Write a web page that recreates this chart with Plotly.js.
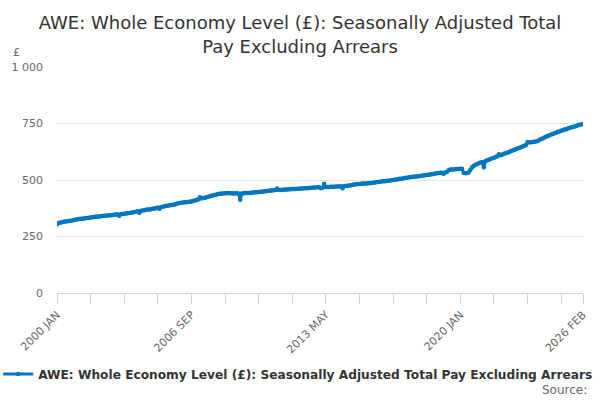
<!DOCTYPE html>
<html>
<head>
<meta charset="utf-8">
<script src="https://cdn.plot.ly/plotly-3.0.1.min.js"></script>
<style>
  body { margin: 0; background: #fff; }
  #chart { width: 600px; height: 400px; }
</style>
</head>
<body>
<div id="chart"></div>
<script>
// monthly values, 2000 JAN .. 2026 FEB (GBP per week)
var y2000 = [304, 310, 312, 313, 315, 316, 317, 319, 320, 321, 323, 324];
var y2001 = [326, 327, 328, 329, 330, 331, 332, 333, 334, 335, 336, 337];
var y2002 = [338, 339, 340, 341, 342, 342, 343, 344, 344, 345, 346, 347];
var y2003 = [348, 342, 349, 350, 351, 352, 353, 354, 355, 356, 358, 359];
var y2004 = [362, 355, 364, 365, 366, 368, 369, 370, 371, 373, 374, 375];
var y2005 = [378, 373, 381, 382, 384, 385, 386, 388, 389, 391, 392, 394];
var y2006 = [397, 398, 399, 400, 401, 402, 403, 404, 405, 407, 409, 411];
var y2007 = [414, 424, 418, 420, 422, 424, 426, 428, 430, 432, 434, 436];
var y2008 = [438, 439, 440, 440, 441, 441, 442, 441, 441, 440, 441, 441];
var y2009 = [440, 413, 440, 441, 442, 442, 443, 444, 444, 445, 446, 446];
var y2010 = [447, 448, 448, 449, 450, 451, 452, 453, 454, 455, 456, 462];
var y2011 = [456, 456, 457, 457, 458, 458, 459, 459, 460, 460, 460, 461];
var y2012 = [461, 462, 462, 463, 464, 464, 465, 466, 466, 467, 467, 468];
var y2013 = [468, 464, 466, 483, 469, 469, 469, 470, 470, 470, 471, 471];
var y2014 = [471, 472, 464, 473, 474, 475, 476, 477, 479, 480, 481, 482];
var y2015 = [482, 483, 484, 484, 485, 486, 486, 487, 488, 489, 490, 491];
var y2016 = [492, 493, 494, 495, 496, 497, 498, 499, 500, 501, 502, 503];
var y2017 = [505, 506, 508, 509, 510, 511, 512, 513, 514, 515, 516, 517];
var y2018 = [518, 519, 520, 521, 522, 523, 524, 525, 527, 529, 530, 531];
var y2019 = [532, 532, 528, 533, 535, 543, 546, 547, 547, 548, 549, 549];
var y2020 = [550, 550, 532, 530, 531, 533, 545, 556, 562, 567, 571, 574];
var y2021 = [577, 578, 556, 584, 587, 590, 593, 596, 599, 602, 605, 614];
var y2022 = [610, 613, 616, 619, 621, 624, 627, 630, 633, 636, 639, 642];
var y2023 = [645, 648, 651, 654, 668, 666, 667, 668, 669, 670, 673, 677];
var y2024 = [681, 684, 688, 691, 695, 698, 701, 704, 707, 709, 713, 715];
var y2025 = [718, 720, 723, 725, 728, 730, 733, 735, 737, 739, 742, 744];
var y2026 = [746, 748];

var monthNames = ['JAN', 'FEB', 'MAR', 'APR', 'MAY', 'JUN', 'JUL', 'AUG', 'SEP', 'OCT', 'NOV', 'DEC'];
var yTickVals = [0, 250, 500, 750, 1000];
var yTickText = ['0', '250', '500', '750', '1 000'];
var labelled = ['2000 JAN', '2006 SEP', '2013 MAY', '2020 JAN', '2026 FEB'];

var values = [].concat(y2000, y2001, y2002, y2003, y2004, y2005, y2006, y2007, y2008,
  y2009, y2010, y2011, y2012, y2013, y2014, y2015, y2016, y2017, y2018, y2019,
  y2020, y2021, y2022, y2023, y2024, y2025, y2026);

var months = [];
for (var i = 0; i < values.length; i++) {
  months.push((2000 + Math.floor(i / 12)) + ' ' + monthNames[i % 12]);
}

// a tick every 20 months plus the last one, labels on a few of them
var tickVals = [];
for (var t = 0; t < months.length - 1; t += 20) tickVals.push(months[t]);
tickVals.push(months[months.length - 1]);
var tickText = tickVals.map(function (m) { return labelled.indexOf(m) >= 0 ? m : ''; });

var blue = '#0077c0';

var data = [{
  x: months,
  y: values,
  type: 'scatter',
  mode: 'lines+markers',
  name: 'AWE: Whole Economy Level (£): Seasonally Adjusted Total Pay Excluding Arrears',
  line: {color: blue, width: 3},
  marker: {color: blue, size: 4.5}
}];

var layout = {
  width: 600,
  height: 400,
  margin: {l: 57, r: 17, t: 67, b: 107, pad: 0},
  paper_bgcolor: '#fff',
  plot_bgcolor: '#fff',
  font: {family: 'DejaVu Sans', color: '#666', size: 11},
  title: {
    text: 'AWE: Whole Economy Level (£): Seasonally Adjusted Total<br>Pay Excluding Arrears',
    font: {family: 'DejaVu Sans', size: 18, color: '#333'},
    x: 0.5, xref: 'container', xanchor: 'center',
    y: 0.927, yref: 'container', yanchor: 'middle'
  },
  xaxis: {
    type: 'category',
    range: [0, months.length - 1],
    tickmode: 'array',
    tickvals: tickVals,
    ticktext: tickText,
    tickangle: -45,
    ticks: 'outside',
    ticklen: 10,
    tickcolor: '#ccd6eb',
    showline: true,
    linecolor: '#ccd6eb',
    linewidth: 1,
    showgrid: false,
    zeroline: false,
    tickfont: {size: 11, color: '#666'}
  },
  yaxis: {
    range: [0, 1000],
    tickmode: 'array',
    tickvals: yTickVals,
    ticktext: yTickText,
    gridcolor: '#e6e6e6',
    zeroline: false,
    ticks: '',
    ticklabelstandoff: 13,
    tickfont: {size: 11, color: '#666'}
  },
  showlegend: true,
  legend: {
    orientation: 'h',
    xref: 'container', x: 0.497, xanchor: 'center',
    yref: 'container', y: 0.065, yanchor: 'middle',
    font: {family: 'DejaVu Sans', size: 12.2, color: '#333', weight: 'bold'}
  },
  annotations: [
    {text: '£', xref: 'paper', yref: 'paper', x: -0.088, y: 1.066,
     xanchor: 'left', yanchor: 'middle', showarrow: false,
     font: {size: 11, color: '#666'}},
    {text: 'Source:', xref: 'paper', yref: 'paper', x: 1.0114, y: -0.429,
     xanchor: 'right', yanchor: 'middle', showarrow: false,
     font: {size: 12, color: '#666'}}
  ]
};

Plotly.newPlot('chart', data, layout, {displayModeBar: false});
</script>
</body>
</html>
